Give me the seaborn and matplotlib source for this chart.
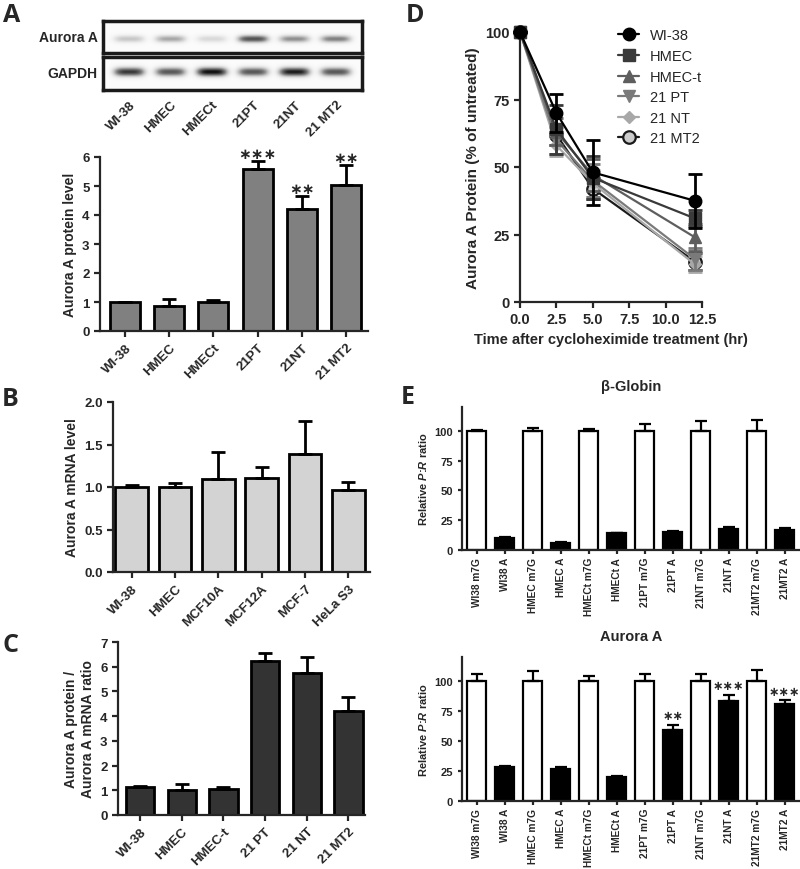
import numpy as np
import pandas as pd
import matplotlib
matplotlib.use("Agg")
import matplotlib.pyplot as plt
import seaborn as sns

# ---------------- data ----------------
blot_lanes = ["WI-38", "HMEC", "HMECt", "21PT", "21NT", "21 MT2"]
aurora_band = [0.30, 0.42, 0.22, 0.72, 0.50, 0.55]
gapdh_band = [0.80, 0.70, 0.92, 0.70, 0.88, 0.70]

prot_cells = ["WI-38", "HMEC", "HMECt", "21PT", "21NT", "21 MT2"]
prot_level = [1.0, 0.87, 1.0, 5.6, 4.2, 5.02]
prot_err = [0.0, 0.22, 0.06, 0.27, 0.47, 0.71]
prot_stars = ["", "", "", "∗∗∗", "∗∗", "∗∗"]

mrna_cells = ["WI-38", "HMEC", "MCF10A", "MCF12A", "MCF-7", "HeLa S3"]
mrna_level = [1.0, 1.0, 1.1, 1.11, 1.39, 0.96]
mrna_err = [0.02, 0.05, 0.31, 0.13, 0.39, 0.10]

ratio_cells = ["WI-38", "HMEC", "HMEC-t", "21 PT", "21 NT", "21 MT2"]
ratio_level = [1.15, 1.0, 1.05, 6.25, 5.75, 4.2]
ratio_err = [0.02, 0.27, 0.07, 0.30, 0.65, 0.58]

chx_time = [0, 2.5, 5, 12]
chx_names = ["WI-38", "HMEC", "HMEC-t", "21 PT", "21 NT", "21 MT2"]
chx_vals = [
    [100, 70, 48, 37.5],
    [100, 64, 46, 31],
    [100, 63, 47, 24],
    [100, 60, 45, 16],
    [100, 58, 44, 14],
    [100, 62, 42, 15],
]
chx_errs = [
    [0, 7, 12, 10],
    [0, 9, 8, 3],
    [0, 5, 6, 5],
    [0, 5, 6, 4],
    [0, 4, 5, 3],
    [0, 4, 4, 3],
]

pr_labels = ["WI38 m7G", "WI38 A", "HMEC m7G", "HMEC A", "HMECt m7G", "HMECt A",
             "21PT m7G", "21PT A", "21NT m7G", "21NT A", "21MT2 m7G", "21MT2 A"]
globin_vals = [100, 10, 100, 6, 100, 14, 100, 15, 100, 18, 100, 17]
globin_err = [1, 0.6, 2, 0.4, 1.5, 0.5, 6, 1, 8, 1.5, 9, 1.5]
aurA_vals = [100, 28, 100, 27, 100, 20, 100, 59, 100, 83, 100, 80.5]
aurA_err = [6, 1.5, 8, 1.5, 4, 1, 6, 4.5, 6, 5.5, 9, 3.5]
aurA_stars = ["", "", "", "", "", "", "", "∗∗", "", "∗∗∗", "", "∗∗∗"]

# ---------------- style ----------------
sns.set_style("ticks")
plt.rcParams["font.family"] = ["Liberation Sans", "DejaVu Sans"]
plt.rcParams["font.weight"] = "bold"
plt.rcParams["axes.labelweight"] = "bold"
plt.rcParams["axes.linewidth"] = 1.6
plt.rcParams["xtick.major.width"] = 1.6
plt.rcParams["ytick.major.width"] = 1.6
plt.rcParams["xtick.major.size"] = 4
plt.rcParams["ytick.major.size"] = 4
plt.rcParams["mathtext.fontset"] = "custom"
plt.rcParams["mathtext.it"] = "Liberation Sans:italic:bold"
plt.rcParams["mathtext.rm"] = "Liberation Sans:bold"

fig = plt.figure(figsize=(8, 8.7), dpi=100)


def box(l, t, r, b):
    return fig.add_axes([l / 800, 1 - b / 870, (r - l) / 800, (b - t) / 870])


def band_image(intens, yc, sig):
    xs = np.linspace(-0.63, 5.63, 500)
    ys = np.linspace(0, 1, 80)
    X, Y = np.meshgrid(xs, ys)
    img = np.full(X.shape, 0.03)
    for i, v in enumerate(intens):
        img += v * np.exp(-((X - i) / 0.38) ** 4) * np.exp(-((Y - yc) / sig) ** 2)
    return img


def bar_panel(ax, cells, vals, errs, color, width, tick_fs=9.5):
    df = pd.DataFrame({"cell": cells, "val": vals})
    sns.barplot(data=df, x="cell", y="val", color=color, saturation=1,
                edgecolor="black", linewidth=2, width=width, errorbar=None, ax=ax)
    n = len(vals)
    ax.errorbar(np.arange(n), vals, yerr=[np.zeros(n), errs], fmt="none",
                ecolor="black", elinewidth=2, capsize=5, capthick=2, zorder=4)
    ax.set_xlabel("")
    sns.despine(ax=ax)
    ax.tick_params(labelsize=tick_fs)
    plt.setp(ax.get_xticklabels(), rotation=45, ha="right", rotation_mode="anchor")


# ---------------- panel A blot ----------------
ax_b1 = box(103, 22, 362, 54)
ax_b2 = box(103, 58, 362, 91)
for ax, img in [(ax_b1, band_image(aurora_band, 0.44, 0.12)),
                (ax_b2, band_image(gapdh_band, 0.55, 0.14))]:
    ax.imshow(img, extent=(-0.63, 5.63, 0, 1), aspect="auto", cmap="Greys",
              vmin=0, vmax=1, origin="lower")
    ax.set_xlim(-0.63, 5.63)
    ax.set_ylim(0, 1)
    ax.set_yticks([])
    for s in ax.spines.values():
        s.set_linewidth(2.5)
        s.set_color("#1a1a1a")
ax_b1.set_xticks([])
ax_b1.text(-0.02, 0.5, "Aurora A", transform=ax_b1.transAxes, ha="right",
           va="center", fontsize=10)
ax_b2.text(-0.02, 0.5, "GAPDH", transform=ax_b2.transAxes, ha="right",
           va="center", fontsize=10)
ax_b2.set_xticks(range(len(blot_lanes)))
ax_b2.set_xticklabels(blot_lanes, fontsize=9.5)
ax_b2.tick_params(axis="x", length=0, pad=6)
plt.setp(ax_b2.get_xticklabels(), rotation=45, ha="right", rotation_mode="anchor")

# ---------------- panel A bars ----------------
axA = box(100, 158, 368, 332)
bar_panel(axA, prot_cells, prot_level, prot_err, "#808080", 0.68)
axA.set_ylim(0, 6)
axA.set_xlim(-0.57, 5.5)
axA.set_yticks(range(7))
axA.set_ylabel("Aurora A protein level", fontsize=10)
for i, s in enumerate(prot_stars):
    if s:
        axA.text(i, prot_level[i] + prot_err[i] + 0.24, s, ha="center", va="center",
                 fontsize=11, family="DejaVu Sans", clip_on=False)

# ---------------- panel B ----------------
axB = box(113, 403, 370, 573)
bar_panel(axB, mrna_cells, mrna_level, mrna_err, "#d3d3d3", 0.76)
axB.set_ylim(0, 2)
axB.set_xlim(-0.43, 5.5)
axB.set_yticks([0, 0.5, 1.0, 1.5, 2.0])
axB.set_yticklabels(["0.0", "0.5", "1.0", "1.5", "2.0"])
axB.set_ylabel("Aurora A mRNA level", fontsize=10)

# ---------------- panel C ----------------
axC = box(118, 643, 365, 816)
bar_panel(axC, ratio_cells, ratio_level, ratio_err, "#333333", 0.68)
axC.set_ylim(0, 7)
axC.set_xlim(-0.53, 5.4)
axC.set_yticks(range(8))
axC.set_ylabel("Aurora A protein /\nAurora A mRNA ratio", fontsize=10)

# ---------------- panel D ----------------
axD = box(520, 33, 702, 303)
line_cols = ["#000000", "#3a3a3a", "#5e5e5e", "#7a7a7a", "#a8a8a8", "#1a1a1a"]
face_cols = ["#000000", "#3a3a3a", "#5e5e5e", "#7a7a7a", "#a8a8a8", "#cccccc"]
markers = ["o", "s", "^", "v", "D", "o"]
msizes = [9, 8.5, 8.5, 8.5, 6, 9]
for i, name in enumerate(chx_names):
    sns.lineplot(x=chx_time, y=chx_vals[i], color=line_cols[i], marker=markers[i],
                 markersize=msizes[i], markerfacecolor=face_cols[i],
                 markeredgecolor=line_cols[i], markeredgewidth=1.6 if i == 5 else 1,
                 linewidth=1.6, label=name, ax=axD, clip_on=False, zorder=20 - 2 * i)
    axD.errorbar(chx_time, chx_vals[i], yerr=chx_errs[i], fmt="none",
                 ecolor=line_cols[i], elinewidth=2, capsize=5, capthick=2,
                 clip_on=False, zorder=19 - 2 * i)
axD.set_xlim(0, 12.5)
axD.set_ylim(0, 100)
axD.set_xticks([0, 2.5, 5, 7.5, 10, 12.5])
axD.set_xticklabels(["0.0", "2.5", "5.0", "7.5", "10.0", "12.5"])
axD.set_yticks([0, 25, 50, 75, 100])
axD.tick_params(labelsize=10.5)
axD.set_xlabel("Time after cycloheximide treatment (hr)", fontsize=10.5)
axD.set_ylabel("Aurora A Protein (% of untreated)", fontsize=11)
sns.despine(ax=axD)
axD.legend(loc="upper left", bbox_to_anchor=(0.5, 1.04), frameon=False,
           prop={"weight": "normal", "size": 10.5}, handlelength=1.4,
           handletextpad=0.75, labelspacing=0.45, borderpad=0)

# ---------------- panel E ----------------
pr_cols = ["white", "black"] * 6
for ax_box, vals, errs, title, stars in [
        ((462, 408, 800, 551), globin_vals, globin_err, "β-Globin", None),
        ((462, 658, 800, 802), aurA_vals, aurA_err, "Aurora A", aurA_stars)]:
    ax = box(*ax_box)
    df = pd.DataFrame({"cond": pr_labels, "val": vals})
    sns.barplot(data=df, x="cond", y="val", hue="cond", palette=pr_cols,
                saturation=1, legend=False, edgecolor="black", linewidth=1.6,
                width=0.68, errorbar=None, ax=ax)
    n = len(vals)
    ax.errorbar(np.arange(n), vals, yerr=[np.zeros(n), errs], fmt="none",
                ecolor="black", elinewidth=1.6, capsize=4, capthick=1.6, zorder=4)
    ax.set_ylim(0, 120)
    ax.set_xlim(-0.53, 11.55)
    ax.set_yticks([0, 25, 50, 75, 100])
    ax.set_xlabel("")
    ax.set_ylabel("Relative $\\mathit{P}$:$\\mathit{R}$ ratio", fontsize=8)
    ax.set_title(title, fontsize=10.5, fontweight="bold", pad=12)
    ax.tick_params(axis="y", labelsize=8, length=3)
    ax.tick_params(axis="x", labelsize=7.3, length=3, pad=2)
    plt.setp(ax.get_xticklabels(), rotation=90)
    sns.despine(ax=ax)
    if stars:
        for i, s in enumerate(stars):
            if s:
                ax.text(i, vals[i] + errs[i] + 7.5, s, ha="center", va="center",
                        fontsize=9, family="DejaVu Sans", clip_on=False)

# ---------------- panel letters ----------------
for letter, x, y in [("A", 3, 3), ("B", 2, 387), ("C", 2, 633), ("D", 406, 3), ("E", 401, 385)]:
    fig.text(x / 800, 1 - y / 870, letter, ha="left", va="top", fontsize=18,
             fontweight="bold", family="Open Sans")

fig.savefig("out.png", dpi=100)
